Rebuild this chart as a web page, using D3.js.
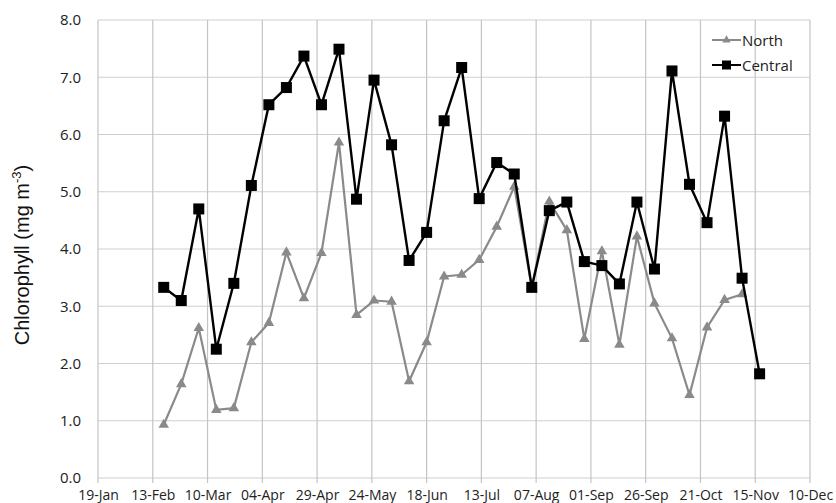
<!DOCTYPE html>
<html><head><meta charset="utf-8">
<script src="https://cdn.jsdelivr.net/npm/d3@7"></script>
<style>body{margin:0;background:#fff;} svg{display:block;}</style>
</head><body><div id="chart"></div>
<script>
const dates = ["2011-02-18","2011-02-26","2011-03-06","2011-03-14","2011-03-22","2011-03-30","2011-04-07","2011-04-15","2011-04-23","2011-05-01","2011-05-09","2011-05-17","2011-05-25","2011-06-02","2011-06-10","2011-06-18","2011-06-26","2011-07-04","2011-07-12","2011-07-20","2011-07-28","2011-08-05","2011-08-13","2011-08-21","2011-08-29","2011-09-06","2011-09-14","2011-09-22","2011-09-30","2011-10-08","2011-10-16","2011-10-24","2011-11-01","2011-11-09","2011-11-17"];
const north = [0.93,1.64,2.62,1.19,1.22,2.37,2.71,3.94,3.14,3.93,5.86,2.85,3.10,3.08,1.69,2.37,3.52,3.55,3.81,4.39,5.09,3.33,4.83,4.33,2.43,3.96,2.33,4.22,3.05,2.44,1.45,2.63,3.11,3.21,null];
const central = [3.33,3.10,4.70,2.25,3.40,5.11,6.52,6.82,7.37,6.52,7.49,4.87,6.95,5.82,3.80,4.29,6.24,7.17,4.88,5.51,5.31,3.33,4.67,4.82,3.78,3.71,3.39,4.82,3.65,7.11,5.13,4.46,6.32,3.49,1.82];
const xTickLabels = ["19-Jan","13-Feb","10-Mar","04-Apr","29-Apr","24-May","18-Jun","13-Jul","07-Aug","01-Sep","26-Sep","21-Oct","15-Nov","10-Dec"];
const yTicks = [0,1,2,3,4,5,6,7,8];

const W = 836, H = 503;
const m = {left: 98, right: 26, top: 20, bottom: 25};
const parse = d3.timeParse("%Y-%m-%d");
const parseTick = d3.timeParse("%d-%b-%Y");
const tickDates = xTickLabels.map(s => parseTick(s + "-2011"));

const svg = d3.select("#chart").append("svg").attr("width", W).attr("height", H);
const x = d3.scaleTime().domain([tickDates[0], tickDates[tickDates.length-1]]).range([m.left, W - m.right]);
const y = d3.scaleLinear().domain([0, 8]).range([H - m.bottom, m.top]);

const font = "'Open Sans', sans-serif";
// gridlines
const g = svg.append("g");
g.selectAll("line.h").data(yTicks).join("line")
  .attr("x1", m.left).attr("x2", W - m.right)
  .attr("y1", d => y(d)).attr("y2", d => y(d))
  .attr("stroke", "#cfcfcf").attr("stroke-width", 1.2);
g.selectAll("line.v").data(tickDates).join("line")
  .attr("x1", d => x(d)).attr("x2", d => x(d))
  .attr("y1", m.top).attr("y2", H - m.bottom + 5)
  .attr("stroke", "#c4c4c4").attr("stroke-width", 1.2);

// y axis
const ya = svg.append("g").attr("transform", `translate(${m.left},0)`)
  .call(d3.axisLeft(y).tickValues(yTicks).tickFormat(d3.format(".1f")).tickSize(0).tickPadding(17));
ya.select(".domain").remove();
ya.selectAll("text").attr("font-family", font).attr("font-size", 15).attr("fill", "#222");

// x axis
const xa = svg.append("g").attr("transform", `translate(0,${H - m.bottom})`)
  .call(d3.axisBottom(x).tickValues(tickDates).tickFormat((d,i) => xTickLabels[i]).tickSize(0).tickPadding(12));
xa.select(".domain").remove();
xa.selectAll("text").attr("font-family", font).attr("font-size", 14).attr("fill", "#222");

// y label
svg.append("text")
  .attr("transform", `translate(29,255) rotate(-90)`)
  .attr("text-anchor", "middle").attr("font-family", "'Liberation Sans', Arial, sans-serif")
  .attr("font-size", 20).attr("fill", "#111")
  .html('Chlorophyll (mg m<tspan dy="-8" font-size="13">-3</tspan><tspan dy="8">)</tspan>');

const nData = dates.map((d,i) => ({d: parse(d), v: north[i]})).filter(p => p.v != null);
const cData = dates.map((d,i) => ({d: parse(d), v: central[i]})).filter(p => p.v != null);
const line = d3.line().x(p => x(p.d)).y(p => y(p.v));

const ncol = "#8a8a8a";
svg.append("path").datum(nData).attr("d", line).attr("fill", "none").attr("stroke", ncol).attr("stroke-width", 2.2);
const tri = d3.symbol().type(d3.symbolTriangle).size(48);
svg.selectAll("path.tri").data(nData).join("path")
  .attr("transform", p => `translate(${x(p.d)},${y(p.v)})`).attr("d", tri).attr("fill", ncol);

svg.append("path").datum(cData).attr("d", line).attr("fill", "none").attr("stroke", "#000").attr("stroke-width", 2.4);
const sq = 11;
svg.selectAll("rect.sq").data(cData).join("rect")
  .attr("x", p => x(p.d) - sq/2).attr("y", p => y(p.v) - sq/2)
  .attr("width", sq).attr("height", sq).attr("fill", "#000");

// legend
const lg = svg.append("g").attr("transform", "translate(712,40)");
lg.append("line").attr("x1", 0).attr("x2", 29).attr("y1", 0).attr("y2", 0).attr("stroke", ncol).attr("stroke-width", 2);
lg.append("path").attr("transform", "translate(14.5,0)").attr("d", d3.symbol().type(d3.symbolTriangle).size(30)).attr("fill", ncol);
lg.append("text").attr("x", 30).attr("y", 5.5).attr("font-family", font).attr("font-size", 15).attr("fill", "#222").text("North");
lg.append("line").attr("x1", 0).attr("x2", 29).attr("y1", 25).attr("y2", 25).attr("stroke", "#000").attr("stroke-width", 2);
lg.append("rect").attr("x", 10).attr("y", 20.5).attr("width", 9).attr("height", 9).attr("fill", "#000");
lg.append("text").attr("x", 30).attr("y", 30.5).attr("font-family", font).attr("font-size", 15).attr("fill", "#222").text("Central");
</script></body></html>
